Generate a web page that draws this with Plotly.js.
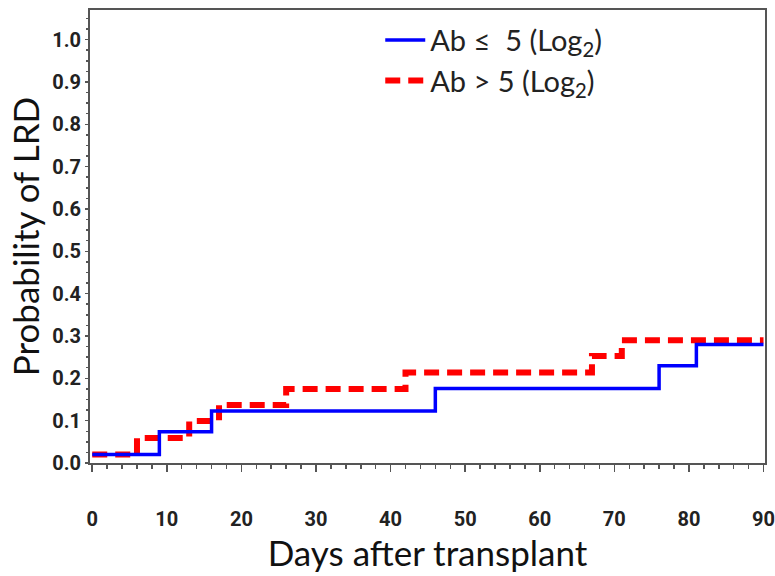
<!DOCTYPE html>
<html>
<head>
<meta charset="utf-8">
<script src="https://cdn.plot.ly/plotly-3.0.1.min.js"></script>
<style>html,body{margin:0;padding:0;background:#fff;}#chart{width:775px;height:576px;}</style>
</head>
<body>
<div id="chart"></div>
<script>
// Step points: day at which each level begins, and the cumulative probability
const lowDays   = [0, 9, 16, 46, 76, 81, 90];
const lowProb   = [0.02, 0.074, 0.123, 0.176, 0.23, 0.28, 0.28];
const highDays  = [0, 6, 13, 17, 26, 42, 67, 71, 90];
const highProb  = [0.02, 0.059, 0.099, 0.137, 0.175, 0.214, 0.253, 0.29, 0.29];
const seriesNames = ['Ab \u2264  5 (Log<sub>2</sub>)', 'Ab > 5 (Log<sub>2</sub>)'];
const xTicks = [0, 10, 20, 30, 40, 50, 60, 70, 80, 90];
const yTicks = [0.0, 0.1, 0.2, 0.3, 0.4, 0.5, 0.6, 0.7, 0.8, 0.9, 1.0];

const tickFont = {family: '"Liberation Sans Narrow", "Arial Narrow", "Roboto", sans-serif', size: 20, weight: 'bold', color: '#222'};
const titleFont = {family: 'Lato, "Open Sans", sans-serif', size: 35, color: '#111'};

const traces = [
  {x: highDays, y: highProb, name: seriesNames[1], mode: 'lines', line: {shape: 'hv', color: '#ff0000', width: 6, dash: '15px,8px'}, legendrank: 2},
  {x: lowDays, y: lowProb, name: seriesNames[0], mode: 'lines', line: {shape: 'hv', color: '#0000ff', width: 3.5}, legendrank: 1}
];

const layout = {
  width: 775, height: 576,
  margin: {l: 89.5, r: 10, t: 10, b: 113},
  paper_bgcolor: '#fff', plot_bgcolor: '#fff',
  showlegend: true,
  legend: {x: 0.43, y: 0.99, xanchor: 'left', yanchor: 'top', bgcolor: 'rgba(0,0,0,0)',
           font: {family: 'Lato, "Open Sans", sans-serif', size: 29, color: '#222'},
           tracegroupgap: 0, itemwidth: 40},
  xaxis: {
    range: [-0.3, 90.2], tickvals: xTicks, ticktext: xTicks.map(String),
    showgrid: false, zeroline: false, showline: true, linecolor: '#555', linewidth: 2, mirror: true,
    ticks: 'outside', ticklen: 7, tickwidth: 1.5, tickcolor: '#555',
    minor: {dtick: 2, tick0: 0, ticks: 'outside', ticklen: 4, tickcolor: '#555', tickwidth: 1.5, showgrid: false},
    tickfont: tickFont, ticklabelstandoff: 30,
    title: {text: 'Days after transplant', font: titleFont, standoff: 4}
  },
  yaxis: {
    range: [0, 1.07], tickvals: yTicks, ticktext: yTicks.map(v => v.toFixed(1)),
    showgrid: false, zeroline: false, showline: true, linecolor: '#555', linewidth: 2, mirror: true,
    ticks: 'outside', ticklen: 3, tickwidth: 1.5, tickcolor: '#555',
    minor: {dtick: 0.025, tick0: 0, ticks: 'outside', ticklen: 2, tickcolor: '#555', tickwidth: 1.5, showgrid: false},
    tickfont: tickFont, ticklabelstandoff: 0,
    title: {text: 'Probability of LRD', font: titleFont, standoff: 2}
  }
};

Plotly.newPlot('chart', traces, layout, {staticPlot: true, displayModeBar: false});
</script>
</body>
</html>
